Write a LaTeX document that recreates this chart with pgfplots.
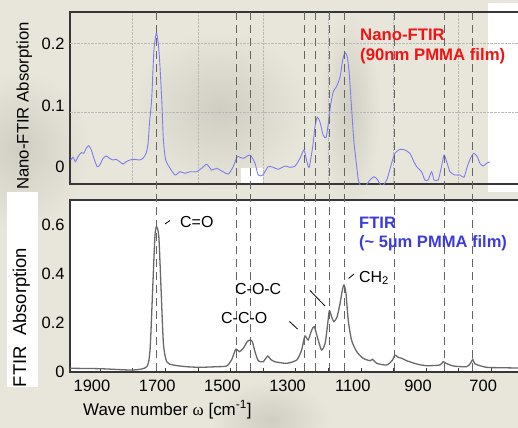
\documentclass[border=0pt]{standalone}
\usepackage{fontspec}
\setmainfont{Liberation Sans}
\usepackage{pgfplots}
\pgfplotsset{compat=1.18}
\usepackage{pgfplotstable}

\definecolor{bg}{RGB}{232,230,218}
\definecolor{shadow}{RGB}{208,206,194}
\definecolor{nanoblue}{RGB}{125,125,240}
\definecolor{ftirgray}{RGB}{105,105,105}
\definecolor{nanored}{RGB}{240,20,20}
\definecolor{ftirblue}{RGB}{60,60,220}
\definecolor{framecol}{RGB}{55,55,55}
\definecolor{dashcol}{RGB}{100,100,100}

\newcommand{\fs}[1]{\fontsize{#1}{#1}\selectfont}

% nano-FTIR trace (90 nm film)
\pgfplotstableread{
w v
1965 0.0114
1958 0.0158
1951 0.0086
1943 0.0167
1933 0.0233
1925 0.0223
1918 0.0304
1910 0.0346
1902 0.0276
1894 0.0141
1884 0.0005
1876 0.0033
1866 0.0141
1856 0.0179
1846 0.0141
1836 0.0114
1826 0.0125
1815 0.0086
1805 0.0049
1795 0.0086
1784 0.0114
1769 0.0125
1754 0.0114
1744 0.0141
1734 0.0223
1728 0.0385
1723 0.0764
1717 0.109
1710 0.190
1702 0.218
1694 0.185
1686 0.109
1681 0.0439
1674 0.0114
1661 -0.0016
1645 -0.013
1630 -0.0076
1615 -0.0102
1599 -0.0076
1579 -0.0076
1564 -0.0021
1548 0.0044
1533 -0.0049
1518 -0.0021
1502 -0.0065
1482 -0.0114
1467 0.0005
1454 0.0167
1436 0.0141
1415 0.0195
1400 0.006
1390 -0.013
1376 -0.013
1360 0.0005
1344 -0.0005
1329 -0.0037
1308 0.0016
1293 -0.0005
1277 0.0016
1262 0.0141
1250 0.0276
1242 0.0114
1234 -0.0005
1223 0.033
1216 0.0655
1209 0.0808
1201 0.0737
1191 0.052
1182 0.0483
1175 0.0711
1168 0.1008
1160 0.1224
1150 0.1306
1139 0.1468
1131 0.174
1124 0.1859
1117 0.1793
1111 0.1524
1104 0.098
1097 0.0439
1088 0.0005
1083 -0.021
1072 -0.035
1060 -0.030
1047 -0.021
1035 -0.0158
1025 -0.020
1011 -0.031
996 -0.021
981 0.006
971 0.0223
955 0.0288
940 0.0276
925 0.0223
915 0.0114
904 0.0005
889 -0.0076
879 -0.021
869 -0.021
858 -0.0076
851 -0.021
838 -0.021
828 0.0005
820 0.0195
812 0.0086
802 -0.0076
787 -0.013
771 -0.013
759 -0.0167
749 0.0005
739 0.0141
729 0.0223
718 0.0167
710 0.006
700 0.0016
690 0.006
680 0.0086
}\nanodata

% FTIR trace (5 um film), lower panel
\pgfplotstableread{
w v
1967 0.0151
1875 0.0135
1774 0.0082
1732 0.0216
1722 0.0898
1714 0.3347
1707 0.5522
1702 0.593
1695 0.5522
1688 0.3347
1681 0.1171
1671 0.042
1651 0.0286
1610 0.0216
1569 0.0192
1518 0.0216
1487 0.0245
1472 0.049
1459 0.0927
1448 0.0829
1436 0.0967
1424 0.1237
1415 0.1306
1408 0.1237
1400 0.0829
1390 0.0461
1375 0.042
1361 0.0653
1352 0.0518
1339 0.042
1303 0.0355
1272 0.049
1257 0.0898
1247 0.1469
1237 0.1306
1226 0.1714
1218 0.1849
1209 0.1441
1196 0.0898
1185 0.1171
1178 0.1849
1172 0.2502
1165 0.2257
1158 0.2053
1148 0.2257
1139 0.2804
1132 0.3347
1127 0.3551
1121 0.3212
1114 0.2122
1104 0.1306
1088 0.0829
1068 0.0559
1047 0.0461
1039 0.0518
1027 0.0355
996 0.0286
978 0.049
971 0.0694
961 0.060
950 0.0559
935 0.0461
904 0.0327
874 0.0257
833 0.0286
823 0.042
814 0.0355
792 0.0245
751 0.0216
739 0.0355
732 0.0518
725 0.0327
690 0.0192
649 0.0176
594 0.0163
}\ftirdata

\pgfplotsset{
  panel/.style={
    scale only axis, width=452bp, height=172bp, anchor=south west,
    x dir=reverse, xmin=581, xmax=1967.5,
    axis line style={framecol, line width=1.3bp},
    tick label style={font=\fs{16.5}, text=black},
    xtick pos=bottom, ytick pos=left, tick align=inside,
    major tick length=0pt,
    yticklabel style={xshift=-2bp},
  },
}
\tikzset{dashline/.style={dashcol, line width=0.85bp, dash pattern=on 8bp off 5bp}}

\begin{document}
\begin{tikzpicture}
\useasboundingbox (0,-428bp) rectangle (518bp,0);
\clip (0,-428bp) rectangle (518bp,0);
\fill[bg] (0,-428bp) rectangle (518bp,0);
% soft shadows of the slide background
\shade[inner color=shadow, outer color=bg] (20bp,-150bp) ellipse (70bp and 80bp);
\shade[inner color=shadow, outer color=bg] (220bp,-110bp) ellipse (90bp and 80bp);
\shade[inner color=shadow, outer color=bg] (350bp,-110bp) ellipse (30bp and 100bp);
\shade[inner color=shadow, outer color=bg] (270bp,-420bp) ellipse (60bp and 40bp);
\fill[white] (488bp,-3bp) rectangle (518bp,-192bp);
\fill[white] (7bp,-192bp) rectangle (38bp,-387bp);
\fill[white] (241bp,-168bp) rectangle (263bp,-184bp);

% upper panel: nano-FTIR
\begin{axis}[panel, at={(70bp,-184bp)},
  ymin=-0.0276, ymax=0.252,
  xtick={775,975,...,1775}, xticklabels={}, xmajorgrids,
  ytick={0,0.1,0.2}, yticklabels={0,0.1,0.2},
  extra y ticks={0.0894,0.2016}, extra y tick labels={},
  extra y tick style={ymajorgrids=true},
  grid style={densely dotted, gray!55, line width=0.6bp},
]
\addplot[nanoblue, line width=0.9bp, smooth, tension=0.4] table {\nanodata};
\end{axis}

% lower panel: FTIR
\begin{axis}[panel, at={(70bp,-372bp)},
  ymin=0, ymax=0.702, clip=false,
  axis background/.style={fill=white},
  xtick={700,900,...,1900}, xticklabels={700,900,1100,1300,1500,1700,1900},
  xticklabel style={yshift=-4bp},
  extra x ticks={675,775,...,1875}, extra x tick labels={},
  extra x tick style={major tick length=4bp, tick style={framecol, line width=0.6bp}},
  ytick={0,0.2,0.4,0.6}, yticklabels={0,0.2,0.4,0.6},
]
\addplot[ftirgray, line width=1.3bp, smooth, tension=0.4] table {\ftirdata};
\pgfplotsinvokeforeach{1701,1457,1413,1248,1216,1171,1127,971,820,734}{
  \draw[dashline] ({axis cs:#1,0} |- {rel axis cs:0,2.093}) -- ({axis cs:#1,0} |- {rel axis cs:0,0});
}
\end{axis}

% axis titles
\node[rotate=90, anchor=base, inner sep=0pt, font=\fs{16.8}] at (28.5bp,-106bp) {Nano-FTIR Absorption};
\node[rotate=90, anchor=base, inner sep=0pt, font=\fs{18.5}] at (26bp,-317.5bp) {FTIR\ \ Absorption};
\node[anchor=base west, inner sep=0pt, font=\fs{17}] at (83bp,-415bp) {Wave number {\fontspec{Liberation Serif}ω} [cm\textsuperscript{-1}]};

% legend-like captions
\node[anchor=base west, inner sep=0pt, font=\fs{16.8}\bfseries, text=nanored] at (360bp,-40bp) {Nano-FTIR};
\node[anchor=base west, inner sep=0pt, font=\fs{16.8}\bfseries, text=nanored] at (360bp,-60.5bp) {(90nm PMMA film)};
\node[anchor=base west, inner sep=0pt, font=\fs{16.6}\bfseries, text=ftirblue] at (359bp,-228bp) {FTIR};
\node[anchor=base west, inner sep=0pt, font=\fs{16.6}\bfseries, text=ftirblue] at (359bp,-247.5bp) {(\textasciitilde\ 5µm PMMA film)};

% band assignments
\node[anchor=base west, inner sep=0pt, font=\fs{16}] at (180bp,-227bp) {C=O};
\draw[black, line width=0.8bp] (165bp,-224bp) -- (170bp,-220.5bp);
\node[anchor=base west, inner sep=0pt, font=\fs{16}] at (235bp,-294bp) {C-O-C};
\draw[black, line width=0.8bp] (310bp,-290.5bp) -- (325bp,-306bp);
\node[anchor=base west, inner sep=0pt, font=\fs{16}] at (221bp,-323bp) {C-C-O};
\draw[black, line width=0.8bp] (289.5bp,-321.5bp) -- (297.5bp,-329bp);
\node[anchor=base west, inner sep=0pt, font=\fs{16}] at (359bp,-282bp) {CH\textsubscript{2}};
\draw[black, line width=0.8bp] (348.5bp,-278.5bp) -- (354bp,-274bp);
\end{tikzpicture}
\end{document}
